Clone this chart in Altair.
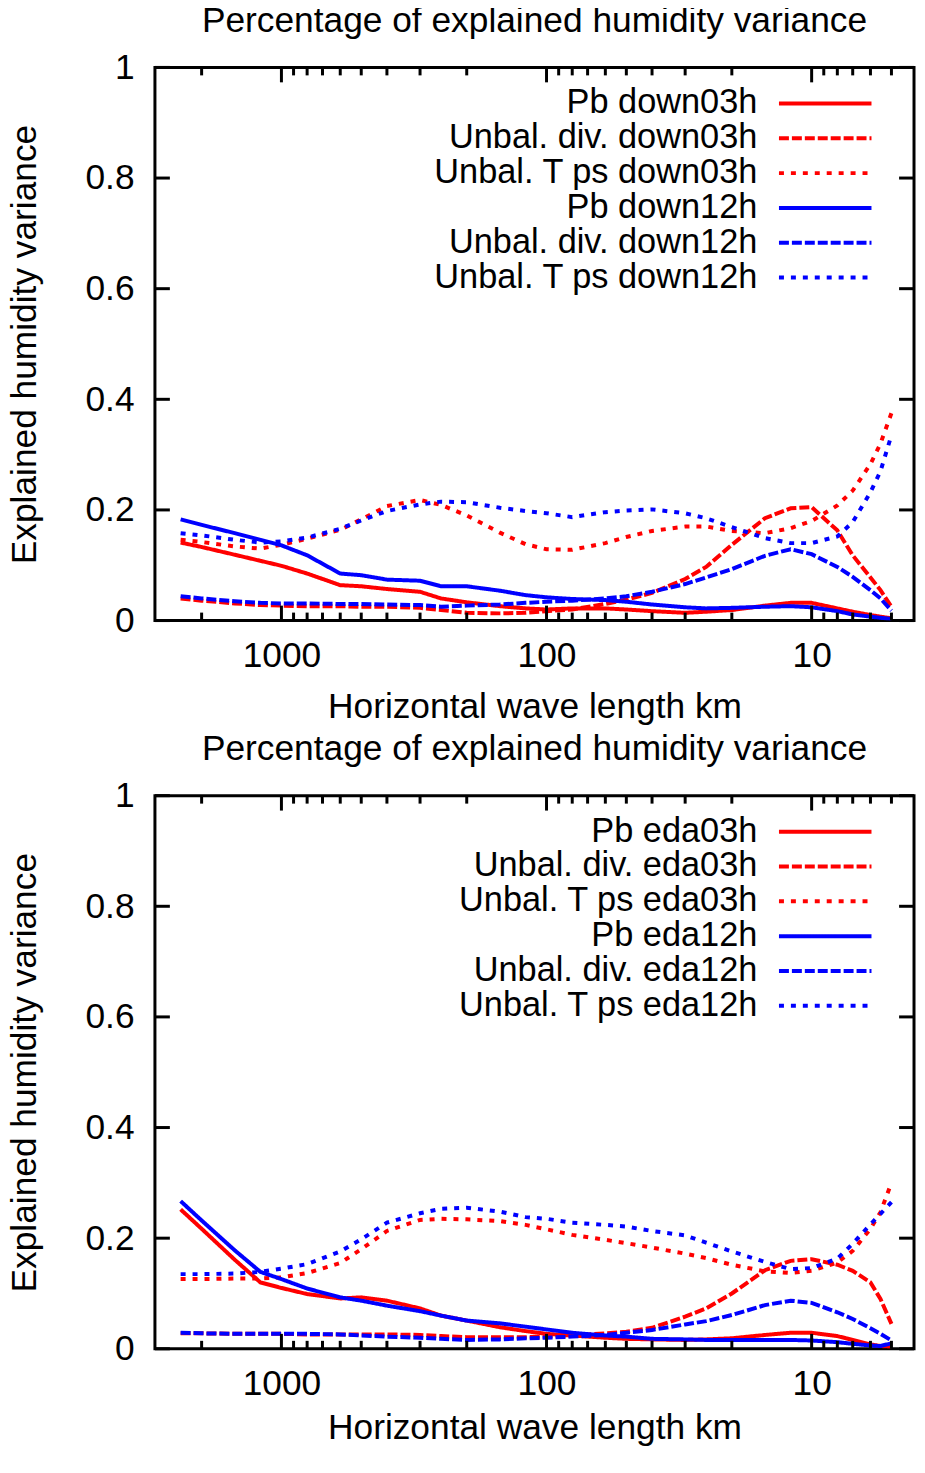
import altair as alt
import pandas as pd

# Horizontal wave length (km) at which the curves were read
WL = [2400, 2000, 1500, 1200, 1000, 800, 600, 500, 400, 300, 250, 200, 150, 120, 100,
      80, 60, 50, 40, 30, 25, 20, 15, 12, 10, 8, 7, 6, 5.5, 5]

# ---- top panel (down) ----
TOP_LABELS = ["Pb down03h", "Unbal. div. down03h", "Unbal. T ps down03h",
              "Pb down12h", "Unbal. div. down12h", "Unbal. T ps down12h"]
pb_down03 = [0.141, 0.133, 0.119, 0.108, 0.099, 0.085, 0.064, 0.062, 0.057, 0.052, 0.040, 0.033, 0.026, 0.022, 0.020,
             0.022, 0.022, 0.020, 0.017, 0.014, 0.016, 0.019, 0.027, 0.032, 0.032, 0.022, 0.016, 0.010, 0.007, 0.004]
div_down03 = [0.040, 0.036, 0.031, 0.028, 0.027, 0.026, 0.026, 0.025, 0.025, 0.023, 0.019, 0.014, 0.013, 0.014, 0.017,
              0.020, 0.030, 0.038, 0.050, 0.075, 0.097, 0.137, 0.185, 0.203, 0.205, 0.163, 0.118, 0.078, 0.055, 0.025]
tps_down03 = [0.146, 0.142, 0.134, 0.130, 0.137, 0.148, 0.164, 0.183, 0.207, 0.218, 0.209, 0.190, 0.159, 0.138, 0.129,
              0.128, 0.140, 0.151, 0.162, 0.170, 0.170, 0.162, 0.158, 0.167, 0.180, 0.208, 0.235, 0.283, 0.320, 0.375]
pb_down12 = [0.183, 0.173, 0.158, 0.146, 0.136, 0.118, 0.085, 0.082, 0.074, 0.072, 0.062, 0.062, 0.054, 0.046, 0.042,
             0.039, 0.037, 0.034, 0.029, 0.024, 0.022, 0.023, 0.025, 0.026, 0.024, 0.017, 0.011, 0.007, 0.005, 0.003]
div_down12 = [0.044, 0.040, 0.035, 0.032, 0.031, 0.031, 0.030, 0.030, 0.029, 0.028, 0.025, 0.027, 0.029, 0.032, 0.034,
              0.036, 0.040, 0.044, 0.052, 0.066, 0.078, 0.093, 0.117, 0.129, 0.120, 0.097, 0.079, 0.055, 0.040, 0.018]
tps_down12 = [0.158, 0.154, 0.146, 0.141, 0.143, 0.150, 0.166, 0.181, 0.198, 0.210, 0.215, 0.214, 0.204, 0.198, 0.194,
              0.187, 0.196, 0.199, 0.201, 0.194, 0.185, 0.169, 0.149, 0.140, 0.140, 0.152, 0.178, 0.232, 0.270, 0.335]
TOP_VALUES = [pb_down03, div_down03, tps_down03, pb_down12, div_down12, tps_down12]

# ---- bottom panel (eda) ----
BOT_LABELS = ["Pb eda03h", "Unbal. div. eda03h", "Unbal. T ps eda03h",
              "Pb eda12h", "Unbal. div. eda12h", "Unbal. T ps eda12h"]
pb_eda03 = [0.252, 0.217, 0.161, 0.120, 0.110, 0.099, 0.091, 0.093, 0.087, 0.073, 0.060, 0.051, 0.039, 0.032, 0.027,
            0.024, 0.020, 0.018, 0.017, 0.016, 0.017, 0.019, 0.025, 0.029, 0.029, 0.023, 0.016, 0.008, 0.005, 0.004]
div_eda03 = [0.028, 0.028, 0.027, 0.027, 0.027, 0.026, 0.026, 0.026, 0.026, 0.025, 0.023, 0.021, 0.021, 0.021, 0.022,
             0.024, 0.028, 0.031, 0.038, 0.058, 0.073, 0.100, 0.142, 0.159, 0.162, 0.152, 0.141, 0.120, 0.090, 0.045]
tps_eda03 = [0.126, 0.126, 0.127, 0.127, 0.129, 0.137, 0.155, 0.180, 0.213, 0.233, 0.235, 0.234, 0.231, 0.224, 0.216,
             0.206, 0.197, 0.191, 0.183, 0.172, 0.164, 0.152, 0.140, 0.137, 0.141, 0.156, 0.177, 0.217, 0.247, 0.300]
pb_eda12 = [0.267, 0.232, 0.178, 0.139, 0.126, 0.109, 0.093, 0.087, 0.078, 0.068, 0.060, 0.051, 0.046, 0.040, 0.035,
            0.029, 0.024, 0.022, 0.018, 0.017, 0.016, 0.016, 0.016, 0.016, 0.015, 0.012, 0.009, 0.006, 0.005, 0.010]
div_eda12 = [0.029, 0.028, 0.027, 0.027, 0.027, 0.027, 0.026, 0.024, 0.022, 0.020, 0.018, 0.016, 0.017, 0.019, 0.020,
             0.022, 0.025, 0.029, 0.034, 0.044, 0.050, 0.061, 0.079, 0.087, 0.083, 0.066, 0.054, 0.037, 0.027, 0.015]
tps_eda12 = [0.135, 0.135, 0.136, 0.139, 0.145, 0.153, 0.176, 0.198, 0.228, 0.245, 0.253, 0.255, 0.248, 0.238, 0.235,
             0.228, 0.224, 0.221, 0.213, 0.205, 0.192, 0.176, 0.157, 0.144, 0.146, 0.163, 0.190, 0.225, 0.244, 0.265]
BOT_VALUES = [pb_eda03, div_eda03, tps_eda03, pb_eda12, div_eda12, tps_eda12]

TITLE = "Percentage of explained humidity variance"
X_TITLE = "Horizontal wave length km"
Y_TITLE = "Explained humidity variance"

X_MAJOR = [1000, 100, 10]
X_MINOR = [2000, 900, 800, 700, 600, 500, 400, 300, 200,
           90, 80, 70, 60, 50, 40, 30, 20, 9, 8, 7, 6, 5]
Y_TICKS = [0, 0.2, 0.4, 0.6, 0.8, 1.0]

COLORS = ["#ff0000", "#ff0000", "#ff0000", "#0000ff", "#0000ff", "#0000ff"]
DASHES = [[1, 0], [10, 3], [5, 7], [1, 0], [10, 3], [5, 7]]

W, H = 763, 556
FONT = "Liberation Sans"
FS = 35.5
LFS = 34.5


def xaxis(title_pad):
    return alt.Axis(values=X_MAJOR, format="d", title=X_TITLE, ticks=False,
                    domain=False, grid=False, labelFontSize=FS, titleFontSize=FS,
                    labelFont=FONT, titleFont=FONT, titleFontWeight="normal",
                    labelColor="black", titleColor="black", labelPadding=18,
                    titlePadding=title_pad, labelFlush=False)


YAXIS = alt.Axis(values=Y_TICKS, format=".1~f", title=Y_TITLE, ticks=False,
                 domain=False, grid=False, labelFontSize=FS, titleFontSize=FS,
                 labelFont=FONT, titleFont=FONT, titleFontWeight="normal",
                 labelColor="black", titleColor="black", labelPadding=21,
                 titlePadding=43, labelFlush=False)


def panel(labels, values, x_title_pad):
    rows = []
    for lab, vals in zip(labels, values):
        for w, v in zip(WL, vals):
            rows.append({"wl": w, "v": v, "series": lab})
    df = pd.DataFrame(rows)

    XAXIS = xaxis(x_title_pad)
    xscale = alt.Scale(type="log", domain=[4.11, 3000], reverse=True, nice=False)
    yscale = alt.Scale(domain=[0, 1], nice=False, zero=True)

    legend = alt.Legend(orient="none", legendX=620, legendY=19, title=None,
                        labelAlign="right", labelOffset=alt.ExprRef(expr="-49"),
                        labelBaseline="middle",
                        symbolSize=400, symbolStrokeWidth=4, symbolType="M-1,0H8.3",
                        labelFontSize=LFS, labelFont=FONT, labelColor="black", labelLimit=0,
                        rowPadding=0, padding=0, symbolOffset=0)

    lines = alt.Chart(df).mark_line(strokeWidth=4, clip=True).encode(
        x=alt.X("wl:Q", scale=xscale, axis=XAXIS),
        y=alt.Y("v:Q", scale=yscale, axis=YAXIS),
        color=alt.Color("series:N", scale=alt.Scale(domain=labels, range=COLORS), legend=legend),
        strokeDash=alt.StrokeDash("series:N", scale=alt.Scale(domain=labels, range=DASHES), legend=legend),
    )

    xmaj = pd.DataFrame({"wl": X_MAJOR})
    xmin = pd.DataFrame({"wl": X_MINOR})
    ydf = pd.DataFrame({"v": Y_TICKS})

    def xticks(d, length, top):
        if top:
            ye = dict(y=alt.value(0), y2=alt.value(length))
        else:
            ye = dict(y=alt.value(H), y2=alt.value(H - length))
        return alt.Chart(d).mark_rule(color="black", strokeWidth=3).encode(
            x=alt.X("wl:Q", scale=xscale, axis=XAXIS), **ye)

    def yticks(right):
        if right:
            xe = dict(x=alt.value(W), x2=alt.value(W - 15))
        else:
            xe = dict(x=alt.value(0), x2=alt.value(15))
        return alt.Chart(ydf).mark_rule(color="black", strokeWidth=3).encode(
            y=alt.Y("v:Q", scale=yscale, axis=YAXIS), **xe)

    layers = [lines,
              xticks(xmaj, 15, False), xticks(xmaj, 15, True),
              xticks(xmin, 8, False), xticks(xmin, 8, True),
              yticks(False), yticks(True)]
    return alt.layer(*layers).properties(
        width=W, height=H,
        title=alt.Title(TITLE, fontSize=FS, font=FONT, fontWeight="normal", color="black",
                        anchor="middle", frame="group", baseline="alphabetic",
                        offset=alt.ExprRef(expr="-17")),
    )


top = panel(TOP_LABELS, TOP_VALUES, 16)
bottom = panel(BOT_LABELS, BOT_VALUES, 9)

chart = alt.vconcat(top, bottom, spacing=4).resolve_scale(
    color="independent", strokeDash="independent", x="independent", y="independent"
).properties(
    padding={"left": -2.3, "top": -9, "right": 0, "bottom": -2}, background="white"
).configure_view(stroke="black", strokeWidth=3)

chart.save("out.html", embed_options={"renderer": "svg", "actions": False})
